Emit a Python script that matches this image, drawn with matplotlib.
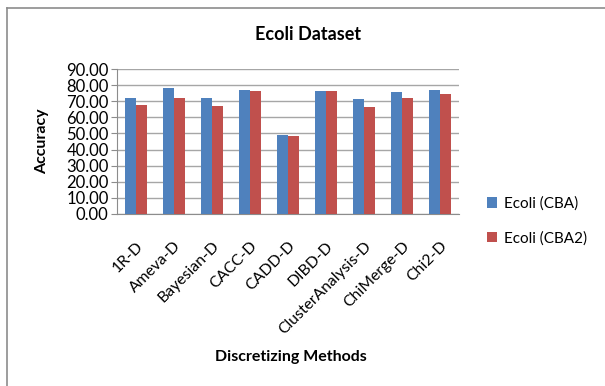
import matplotlib.pyplot as plt
import numpy as np
from matplotlib.lines import Line2D

methods = ['1R-D', 'Ameva-D', 'Bayesian-D', 'CACC-D', 'CADD-D', 'DIBD-D',
           'ClusterAnalysis-D', 'ChiMerge-D', 'Chi2-D']
cba = [72.1, 78.0, 72.1, 76.9, 48.9, 76.5, 71.1, 75.9, 76.9]
cba2 = [67.6, 72.1, 66.9, 76.5, 48.2, 76.5, 66.3, 72.1, 74.4]
yticks = [0, 10, 20, 30, 40, 50, 60, 70, 80, 90]

plt.rcParams['font.family'] = ['Lato', 'DejaVu Sans']

W, H = 605, 386
fig = plt.figure(figsize=(W / 100, H / 100), dpi=100)
ax = fig.add_axes([117 / W, 1 - 214 / H, (459 - 117) / W, (214 - 69) / H])

# chart border (only left and top visible in the crop)
fig.add_artist(Line2D([7 / W, 7 / W], [0, 1 - 8 / H], transform=fig.transFigure,
                      color='#8c8c8c', lw=1.2))
fig.add_artist(Line2D([7 / W, 1], [1 - 8 / H, 1 - 8 / H], transform=fig.transFigure,
                      color='#8c8c8c', lw=1.2))

x = np.arange(len(methods))
w = 0.286
b1 = ax.bar(x - w / 2, cba, w, color='#4F81BD', label='Ecoli (CBA)', zorder=3)
b2 = ax.bar(x + w / 2, cba2, w, color='#C0504D', label='Ecoli (CBA2)', zorder=3)

ax.set_xlim(-0.5, len(methods) - 0.5)
ax.set_ylim(0, 90)
ax.set_yticks(yticks)
ax.set_yticklabels([f'{v:.2f}' for v in yticks], fontsize=12)
ax.set_xticks(x)
ax.set_xticklabels(methods, rotation=45, ha='right', rotation_mode='anchor', fontsize=11.3)
ax.tick_params(axis='x', length=0, pad=18)
ax.tick_params(axis='y', length=4, color='#8c8c8c', pad=2)
ax.yaxis.grid(True, color='#a6a6a6', lw=1, zorder=0)
for s in ['top', 'right']:
    ax.spines[s].set_visible(False)
for s in ['left', 'bottom']:
    ax.spines[s].set_color('#8c8c8c')

fig.text(308 / W, 1 - 35 / H, 'Ecoli Dataset', ha='center', va='center',
         fontsize=13, fontweight='bold')
fig.text(42 / W, 1 - 141 / H, 'Accuracy', ha='center', va='center', rotation=90,
         fontsize=11.5, fontweight='bold')
fig.text(291 / W, 1 - 357 / H, 'Discretizing Methods', ha='center', va='center',
         fontsize=11.5, fontweight='bold')

fig.legend(handles=[b1, b2], loc='center left', bbox_to_anchor=(473 / W, 1 - 221 / H),
           frameon=False, fontsize=11, handlelength=0.7, handleheight=0.7,
           handletextpad=0.4, labelspacing=1.3)

fig.savefig('out.png', dpi=100)
